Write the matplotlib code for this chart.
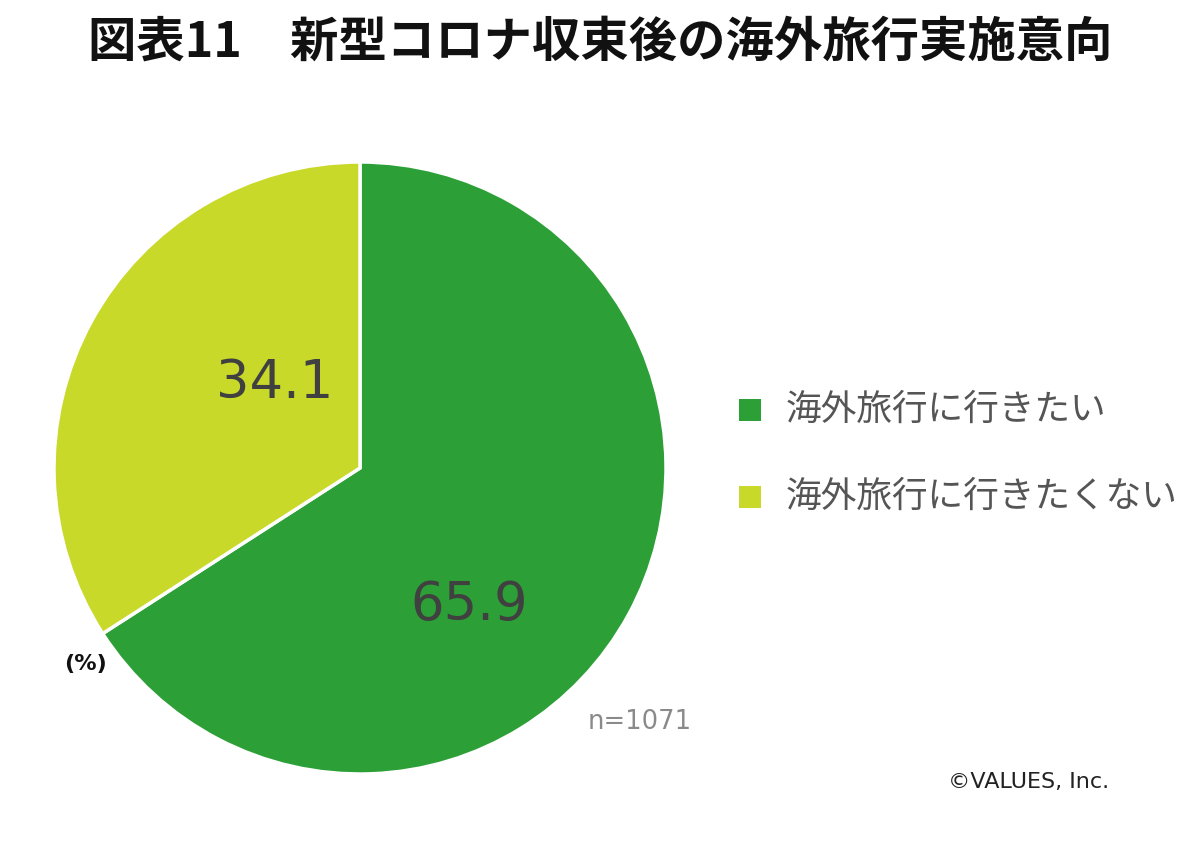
import matplotlib
matplotlib.use("Agg")
import matplotlib.pyplot as plt
from matplotlib.patches import Rectangle

plt.rcParams['font.family'] = ['Noto Sans CJK JP', 'DejaVu Sans']

title = "図表11　新型コロナ収束後の海外旅行実施意向"
categories = ["海外旅行に行きたい", "海外旅行に行きたくない"]
values = [65.9, 34.1]
colors = ["#2ca037", "#c9d92a"]
sample_note = "n=1071"
unit_note = "(%)"
credit = "©VALUES, Inc."

W, H = 1200, 857
fig = plt.figure(figsize=(W / 100, H / 100), dpi=100)
fig.patch.set_facecolor("white")

def fx(px):
    return px / W

def fy(py):
    return 1 - py / H

cx, cy, r = 360, 468, 306
ax = fig.add_axes([fx(cx - r), fy(cy + r), 2 * r / W, 2 * r / H])
wedges, _ = ax.pie(values, colors=colors, startangle=90, counterclock=False,
                   radius=1.0, wedgeprops=dict(edgecolor="white", linewidth=2.5))
ax.set_xlim(-1, 1)
ax.set_ylim(-1, 1)
ax.set_aspect("auto")
ax.axis("off")

# value labels
label_pos = [(469, 605), (275, 383)]
for v, (px, py) in zip(values, label_pos):
    fig.text(fx(px), fy(py), f"{v:.1f}", ha="center", va="center",
             fontsize=38, color="#404040", family=["DejaVu Sans"])

fig.text(fx(600), fy(42), title, ha="center", va="center",
         fontsize=34.8, fontweight="bold", color="#111111")

# legend
leg_y = [410, 497]
for cat, col, py in zip(categories, colors, leg_y):
    fig.patches.append(Rectangle((fx(739), fy(py + 11)), 22 / W, 22 / H,
                                 transform=fig.transFigure, facecolor=col,
                                 edgecolor="none"))
    fig.text(fx(786), fy(py), cat, ha="left", va="center", fontsize=25.7,
             color="#555555")

fig.text(fx(85), fy(664), unit_note, ha="center", va="center", fontsize=16,
         fontweight="bold", color="#111111", family=["DejaVu Sans"])
fig.text(fx(640), fy(722), sample_note, ha="center", va="center", fontsize=18.5,
         color="#8a8a8a", family=["DejaVu Sans"])
fig.text(fx(1029), fy(782), credit, ha="center", va="center", fontsize=16,
         color="#222222", family=["DejaVu Sans"])

fig.savefig("out.png", dpi=100, facecolor="white")
